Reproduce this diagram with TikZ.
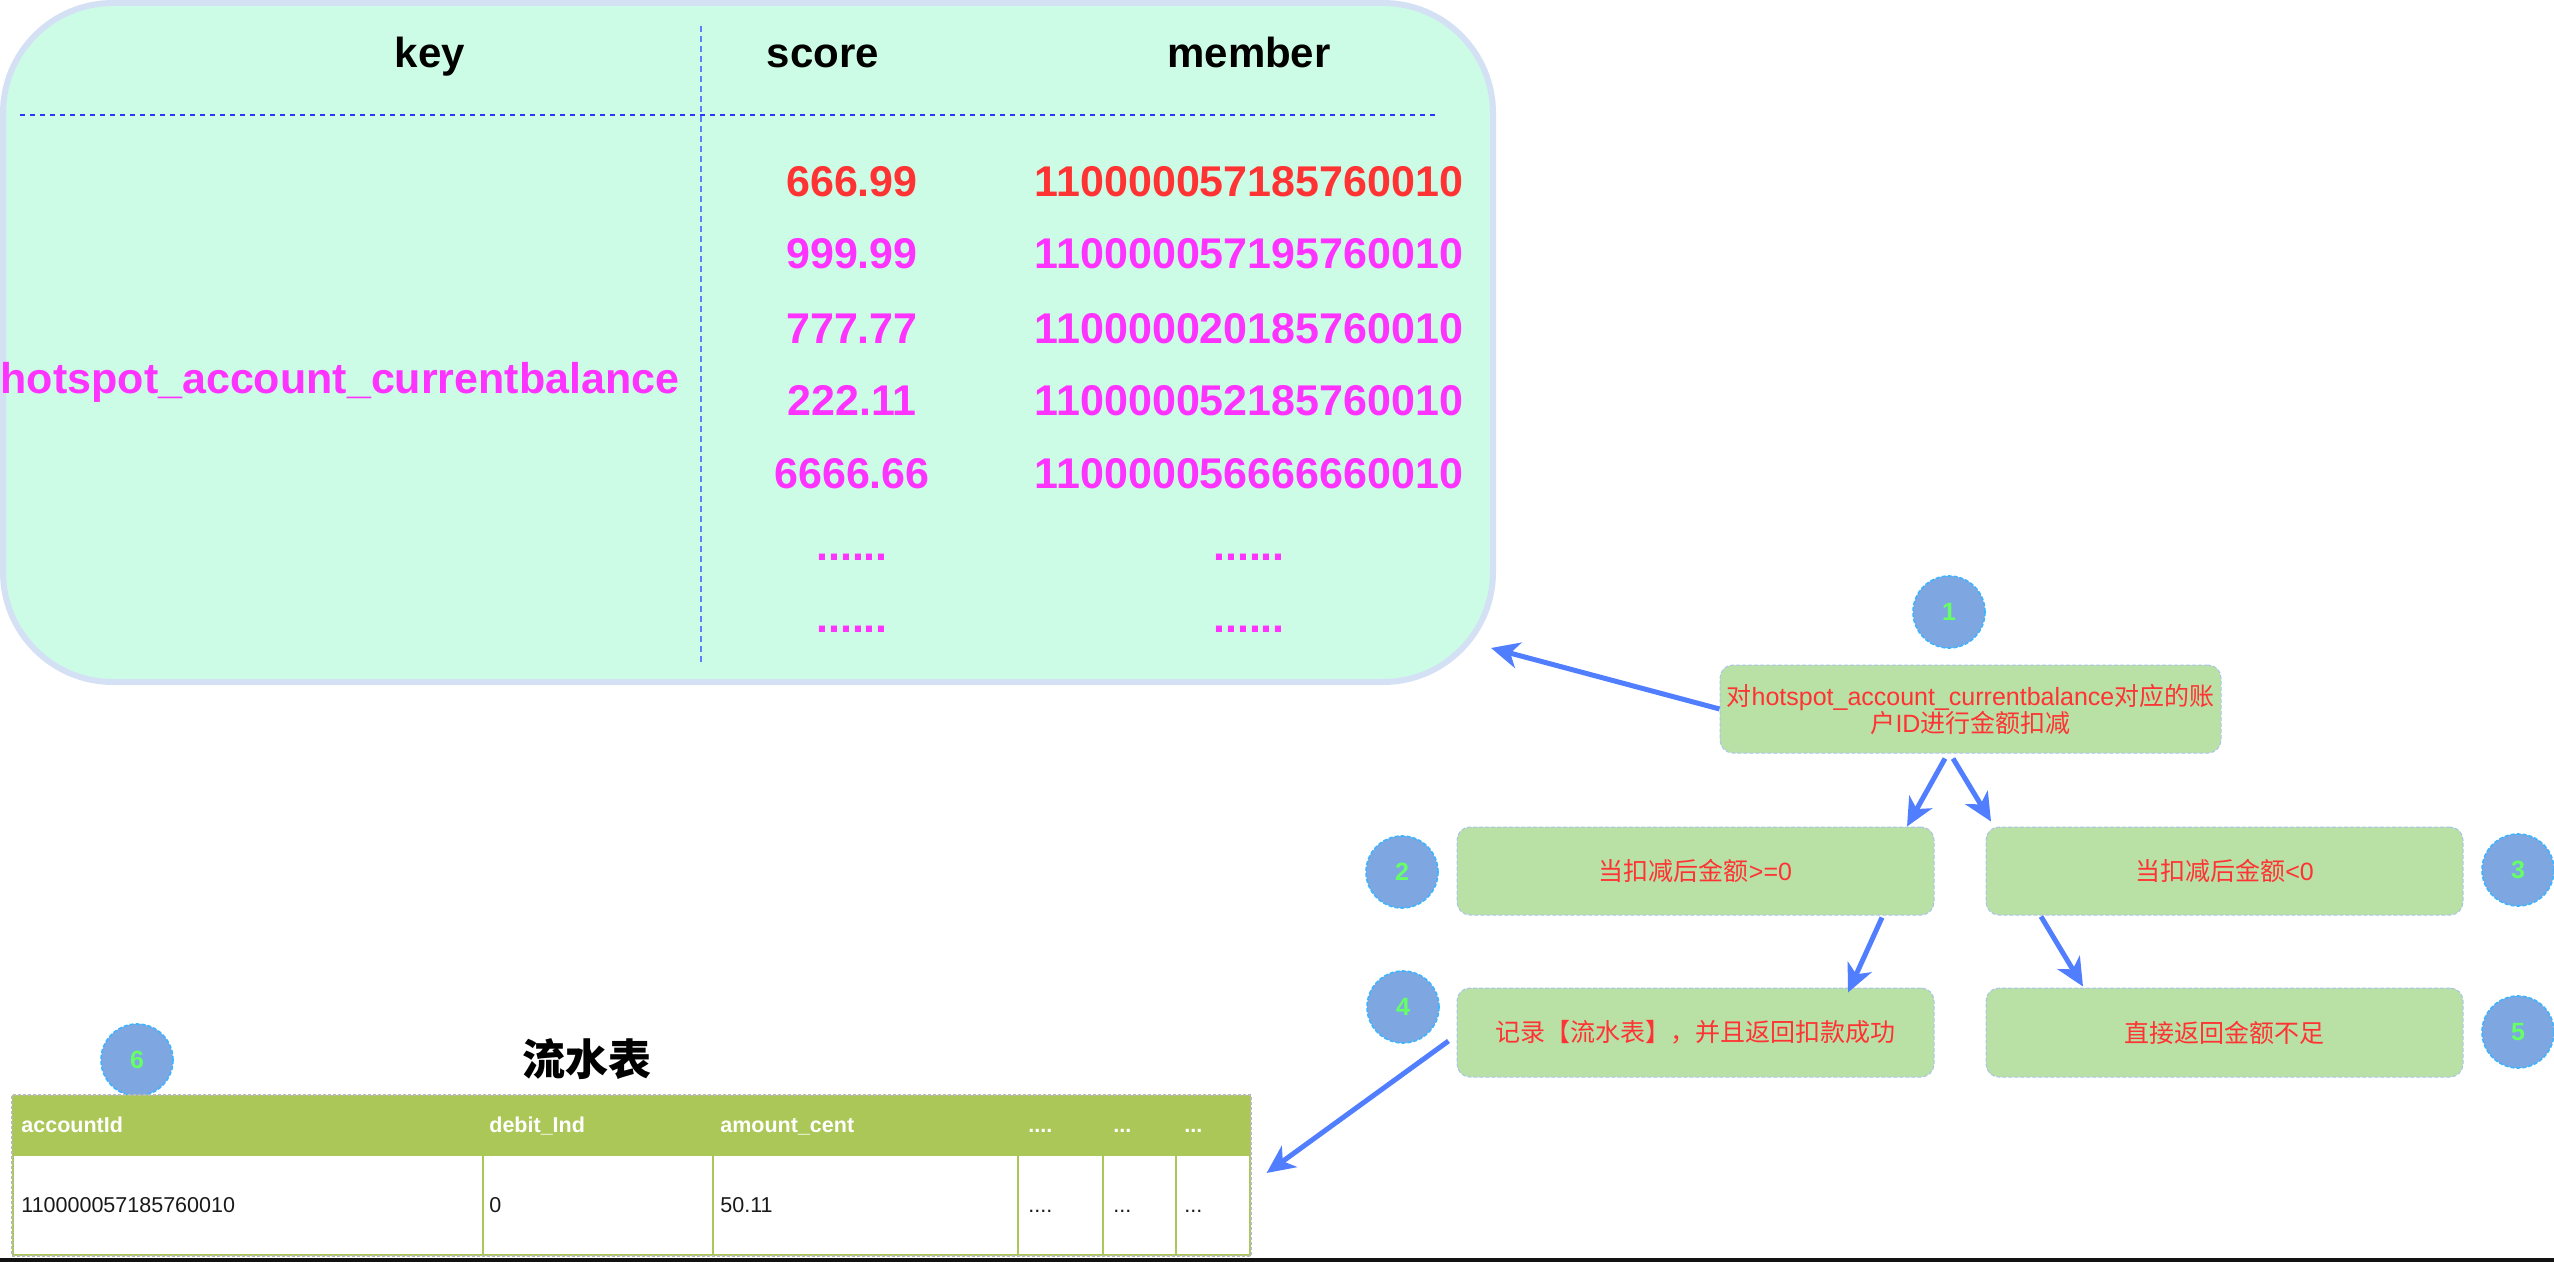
\documentclass[tikz,border=0pt]{standalone}
\usepackage{fontspec}
\setmainfont{Liberation Sans}
\newfontfamily\cjk{Noto Sans CJK SC}
\usetikzlibrary{arrows.meta}
\definecolor{mint}{RGB}{204,252,230}
\definecolor{mintline}{RGB}{212,225,245}
\definecolor{boxfill}{RGB}{185,224,165}
\definecolor{boxline}{RGB}{169,196,235}
\definecolor{badgefill}{RGB}{126,166,224}
\definecolor{badgeline}{RGB}{60,180,255}
\definecolor{badgetxt}{RGB}{102,255,102}
\definecolor{redtxt}{RGB}{255,51,51}
\definecolor{mag}{RGB}{255,51,255}
\definecolor{arrowblue}{RGB}{80,126,255}
\definecolor{sepblue}{RGB}{51,51,255}
\definecolor{vblue}{RGB}{90,130,255}
\definecolor{tblgreen}{RGB}{171,199,87}
\tikzset{
  bigbox/.style={draw=mintline, fill=mint, line width=3pt, rounded corners=55pt,
    minimum width=745pt, minimum height=339.5pt, inner sep=0pt},
  hdr/.style={font=\fontsize{21}{25}\selectfont\bfseries, anchor=base, inner sep=0pt},
  num/.style={font=\fontsize{21.5}{25}\selectfont\bfseries, anchor=base, inner sep=0pt, text=mag},
  flowbox/.style={draw=boxline, dash pattern=on 2pt off 1pt, fill=boxfill, rounded corners=6.5pt,
    line width=0.5pt, text=redtxt, font=\fontsize{12.5}{13.5}\selectfont, align=center, inner sep=0pt},
  badge/.style={circle, fill=badgefill, draw=badgeline, dash pattern=on 2pt off 1pt, line width=0.8pt,
    minimum size=36pt, inner sep=0pt, text=badgetxt, font=\fontsize{12.5}{15}\selectfont\bfseries},
  flow/.style={draw=arrowblue, line width=2.5pt, -{Stealth[length=14pt,width=13pt,inset=4pt]}},
  thd/.style={font=\fontsize{10.75}{12}\selectfont\bfseries, text=white, anchor=base west, inner sep=0pt},
  tbd/.style={font=\fontsize{10.75}{12}\selectfont, text=black!90, anchor=base west, inner sep=0pt},
}
\begin{document}
\begin{tikzpicture}[x=0.5pt, y=-0.5pt]
\useasboundingbox (0,0) rectangle (2554,1262);
\fill[white] (0,0) rectangle (2554,1262);

% ---- big zset box ----
\node[bigbox] (big) at (748,342.5) {};
\draw[sepblue, line width=1pt, dash pattern=on 2.5pt off 2.5pt] (20,115) -- (1438,115);
\draw[vblue, line width=0.6pt, dash pattern=on 3pt off 2pt] (701,26) -- (701,662);

\node[hdr] (hkey) at (430,68) {key};
\node[hdr] (hscore) at (823,68) {score};
\node[hdr] (hmember) at (1249,68) {member};

\node[num] (keyname) at (340,394) {hotspot\_account\_currentbalance};

\node[num, text=redtxt] (s1) at (852,197) {666.99};
\node[num, text=redtxt] (m1) at (1249,197) {110000057185760010};
\node[num] (s2) at (852,269) {999.99};
\node[num] (m2) at (1249,269) {110000057195760010};
\node[num] (s3) at (852,344) {777.77};
\node[num] (m3) at (1249,344) {110000020185760010};
\node[num] (s4) at (852,416) {222.11};
\node[num] (m4) at (1249,416) {110000052185760010};
\node[num] (s5) at (852,488) {6666.66};
\node[num] (m5) at (1249,488) {110000056666660010};
\node[num] (s6) at (852,560) {......};
\node[num] (m6) at (1249,560) {......};
\node[num] (s7) at (852,632) {......};
\node[num] (m7) at (1249,632) {......};

% ---- flow boxes ----
\node[flowbox, minimum width=250.5pt, minimum height=44pt] (box1) at (1970.5,709)
  {{\cjk 对}hotspot\_account\_currentbalance{\cjk 对应的账}\\{\cjk 户}ID{\cjk 进行金额扣减}};
\node[flowbox, minimum width=238.5pt, minimum height=44pt] (box2) at (1695.5,871) {{\cjk 当扣减后金额}>=0};
\node[flowbox, minimum width=238.5pt, minimum height=44pt] (box3) at (2224.5,871) {{\cjk 当扣减后金额}<0};
\node[flowbox, minimum width=238.5pt, minimum height=44.5pt] (box4) at (1695.5,1032.5) {\cjk 记录【流水表】，并且返回扣款成功};
\node[flowbox, minimum width=238.5pt, minimum height=44.5pt] (box5) at (2224.5,1032.5) {\cjk 直接返回金额不足};

% ---- badges ----
\node[badge] (c1) at (1949,612) {1};
\node[badge] (c2) at (1402,872) {2};
\node[badge] (c3) at (2518,870) {3};
\node[badge] (c4) at (1403,1007) {4};
\node[badge] (c5) at (2518,1032) {5};
\node[badge] (c6) at (137,1060) {6};

% ---- table ----
\node[font=\fontsize{21.5}{25}\selectfont\cjk\bfseries, inner sep=0pt] (ttitle) at (587,1059) {流水表};
\fill[tblgreen] (13,1096) rectangle (1250,1155);
\fill[white] (13,1155) rectangle (1250,1255);
\draw[tblgreen, line width=0.8pt] (13,1096) rectangle (1250,1255);
\draw[tblgreen, line width=0.8pt] (13,1155) -- (1250,1155);
\foreach \cx in {483,713,1018,1103,1176} {
  \draw[tblgreen, line width=0.8pt] (\cx,1096) -- (\cx,1255);
}
\node[draw=gray!55, dash pattern=on 1.5pt off 1pt, line width=0.6pt, minimum width=619.5pt,
  minimum height=80.5pt, inner sep=0pt] (tbl) at (631.5,1175.5) {};

\node[thd] (h1) at (21,1132) {accountId};
\node[thd] (h2) at (489,1132) {debit\_Ind};
\node[thd] (h3) at (720,1132) {amount\_cent};
\node[thd] (h4) at (1028,1132) {....};
\node[thd] (h5) at (1113,1132) {...};
\node[thd] (h6) at (1184,1132) {...};
\node[tbd] (b1) at (21,1212) {110000057185760010};
\node[tbd] (b2) at (489,1212) {0};
\node[tbd] (b3) at (720,1212) {50.11};
\node[tbd] (b4) at (1028,1212) {....};
\node[tbd] (b5) at (1113,1212) {...};
\node[tbd] (b6) at (1184,1212) {...};

% ---- connectors ----
\draw[flow] (box1.west) -- ([shift={(-5,-37)}]big.south east);
\draw[flow] ([shift={(-25.5,5)}]box1.south) -- ([shift={(211.5,0)}]box2.north);
\draw[flow] ([shift={(-17.5,5)}]box1.south) -- ([shift={(-233.5,-5)}]box3.north);
\draw[flow] ([shift={(186.5,2)}]box2.south) -- ([shift={(152.5,5)}]box4.north);
\draw[flow] ([shift={(-183.5,1)}]box3.south) -- ([shift={(-141.5,-1)}]box5.north);
\draw[flow] ([shift={(-8,8.5)}]box4.west) -- ([shift={(15,-2.5)}]tbl.east);

% ---- bottom bar ----
\fill[black!93] (0,1258) rectangle (2554,1262);
\end{tikzpicture}
\end{document}
